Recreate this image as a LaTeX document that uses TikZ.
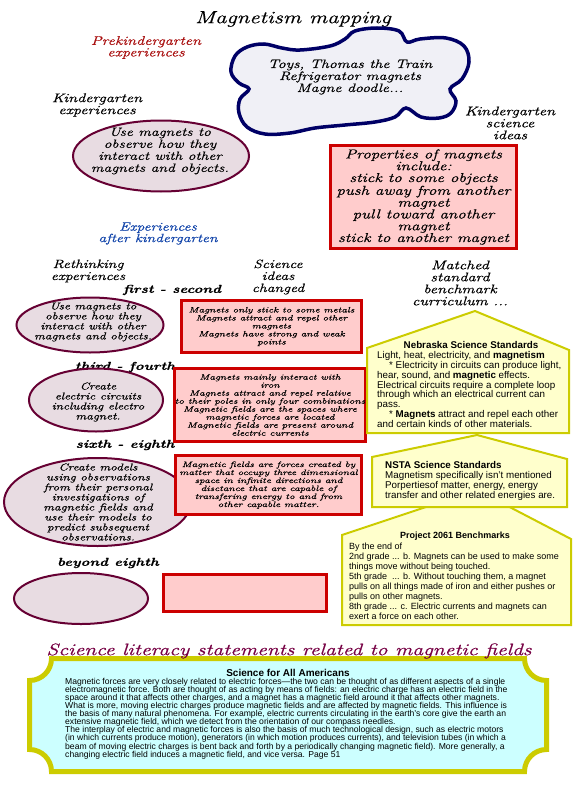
\documentclass[tikz,border=0pt]{standalone}
\usepackage{fontspec}
\setmainfont{Liberation Sans}
\newfontfamily\handfont{Latin Modern Roman}[FakeStretch=1.3,FakeBold=0.6]
\usetikzlibrary{shapes.geometric}
\newcommand\hwf[2]{\handfont\itshape\fontsize{#1}{#2}\selectfont}
\newcommand\sansf[2]{\rmfamily\fontsize{#1}{#2}\selectfont}
\definecolor{boxred}{HTML}{CC0000}
\definecolor{boxfill}{HTML}{FFCCCC}
\definecolor{ellline}{HTML}{660033}
\definecolor{ellfill}{HTML}{E8DCE2}
\definecolor{cloudline}{HTML}{000066}
\definecolor{cloudfill}{HTML}{F0F0F6}
\definecolor{pentline}{HTML}{CCCC00}
\definecolor{pentfill}{HTML}{FFFFCC}
\definecolor{bannerfill}{HTML}{CCFFFF}
\definecolor{prered}{HTML}{AA1111}
\definecolor{afterblue}{HTML}{1144AA}
\definecolor{littitle}{HTML}{770044}
\tikzset{
  hw/.style={align=center, inner sep=0pt},
  redbox/.style={draw=boxred, line width=3pt, fill=boxfill, rectangle, inner sep=0pt, align=center},
  ell/.style={ellipse, draw=ellline, line width=2pt, fill=ellfill, inner sep=0pt},
  pent/.style={draw=pentline, line width=2pt, fill=pentfill, line join=miter},
  sanstxt/.style={inner sep=0pt, font={\sansf{9.8}{9.9}}},
  grade/.style={inner sep=0pt, font={\hwf{11.5}{12}\bfseries}}
}
\begin{document}
\begin{tikzpicture}[x=1pt,y=-1pt]
\useasboundingbox (0,0) rectangle (576,792);
\fill[white] (0,0) rectangle (576,792);

% title
\node[hw, font={\hwf{17.5}{20}}] (title) at (293,19) {Magnetism mapping};

% prekindergarten
\node[hw, text=prered, font={\hwf{12.5}{11.5}}] (prek) at (146,47.5) {Prekindergarten\\experiences};

% cloud
\draw[draw=cloudline, fill=cloudfill, line width=3.5pt]
  plot[smooth cycle, tension=0.6] coordinates {
  (231,72) (235,56) (247,47) (264,44) (282,48) (300,50) (330,46) (345,39)
  (355,31) (377,28) (399,31) (407,42) (420,39) (446,38) (464,46) (469,62)
  (462,79) (450,89) (456,101) (451,113) (439,118) (421,117) (406,108)
  (395,117) (375,122) (345,125) (315,128) (290,133) (265,134) (247,127)
  (239,113) (240,99) (249,89) (239,83)};
\node[hw, font={\hwf{12.2}{12}}] (cloudtxt) at (350,77) {Toys, Thomas the Train\\Refrigerator magnets\\Magne doodle...};

% kindergarten
\node[hw, font={\hwf{12.5}{12}}] (kexp) at (97,105) {Kindergarten\\experiences};
\node[ell, minimum width=176pt, minimum height=71pt] (kell) at (161,156) {};
\node[hw, font={\hwf{12}{12}}] (kelltxt) at (160,151) {Use magnets to\\observe how they\\interact with other\\magnets and objects.};

\node[hw, font={\hwf{12.5}{12}}] (ksci) at (510,123) {Kindergarten\\science\\ideas};
\node[redbox, minimum width=186pt, minimum height=103pt, font={\hwf{13}{11.8}}] (kbox) at (423.5,197)
  {Properties of magnets\\include:\\stick to some objects\\push away from another\\magnet\\pull toward another\\magnet\\stick to another magnet};

% after kindergarten
\node[hw, text=afterblue, font={\hwf{12}{11.5}}] (after) at (158,233.5) {Experiences\\after kindergarten};
\node[hw, font={\hwf{12}{12}}] (rethink) at (88,271) {Rethinking\\experiences};
\node[hw, font={\hwf{12}{12}}] (changed) at (278,277) {Science\\ideas\\changed};
\node[hw, font={\hwf{12.5}{12}}] (matched) at (460,283) {Matched\\standard\\benchmark\\curriculum ...};

% first - second
\node[grade] (g12) at (172,290) {first - second};
\node[ell, minimum width=147pt, minimum height=55pt] (ell2) at (90,325) {};
\node[hw, font={\hwf{10}{10}}] (ell2txt) at (93,322) {Use magnets to\\observe how they\\interact with other\\magnets and objects.};
\node[redbox, minimum width=180pt, minimum height=52pt, font={\hwf{7.9}{8}}] (box1) at (271.5,326.5)
  {Magnets only stick to some metals\\Magnets attract and repel other\\magnets\\Magnets have strong and weak\\points};

% third - fourth
\node[grade] (g34) at (125,367) {third - fourth};
\node[ell, minimum width=134pt, minimum height=63pt] (ell3) at (96,400) {};
\node[hw, font={\hwf{10}{10}}] (ell3txt) at (98,402) {Create\\electric circuits\\including electro\\magnet.};
\node[redbox, minimum width=183pt, minimum height=73pt, font={\hwf{7.9}{8}}] (box2) at (270,405)
  {Magnets mainly interact with\\iron\\Magnets attract and repel relative\\to their poles in only four combinations\\Magnetic fields are the spaces where\\magnetic forces are located\\Magnetic fields are present around\\electric currents};

% sixth - eighth
\node[grade] (g68) at (125,445) {sixth - eighth};
\node[ell, minimum width=187pt, minimum height=88pt] (ell4) at (97.5,502) {};
\node[hw, font={\hwf{10}{10}}] (ell4txt) at (98,502) {Create models\\using observations\\from their personal\\investigations of\\magnetic fields and\\use their models to\\predict subsequent\\observations.};
\node[redbox, minimum width=186pt, minimum height=59pt, font={\hwf{7.9}{8}}] (box3) at (268.5,485)
  {Magnetic fields are forces created by\\matter that occupy three dimensional\\space in infinite directions and\\disctance that are capable of\\transfering energy to and from\\other capable matter.};

% beyond eighth
\node[grade] (g9) at (108,563) {beyond eighth};
\node[ell, minimum width=134pt, minimum height=51pt] (ell5) at (81,598.5) {};
\node[redbox, minimum width=163pt, minimum height=37pt] (box4) at (245,593) {};

% standards pentagons
\draw[pent] (342,535) -- (477,490) -- (571,539) -- (571,625) -- (342,625) -- cycle;
\draw[pent] (372,457) -- (477,435) -- (567,459) -- (567,507) -- (372,507) -- cycle;
\draw[pent] (367,348) -- (475,311) -- (569,350) -- (569,433) -- (367,433) -- cycle;

\node[sanstxt, font={\sansf{9.8}{9.9}\bfseries}] (nebt) at (471,345) {Nebraska Science Standards};
\node[sanstxt, anchor=west, align=left] (nebb) at (377,389.5)
  {Light, heat, electricity, and \textbf{magnetism}\\
   \hspace*{12pt}* Electricity in circuits can produce light,\\
   hear, sound, and \textbf{magnetic} effects.\\
   Electrical circuits require a complete loop\\
   through which an electrical current can\\
   pass.\\
   \hspace*{12pt}* \textbf{Magnets} attract and repel each other\\
   and certain kinds of other materials.};

\node[sanstxt, font={\sansf{9.8}{10}}, anchor=west, align=left] (nsta) at (385,481)
  {\textbf{NSTA Science Standards}\\
   Magnetism specifically isn't mentioned\\
   Porpertiesof matter, energy, energy\\
   transfer and other related energies are.};

\node[sanstxt, font={\sansf{9}{10}\bfseries}] (p2061t) at (455,536) {Project 2061 Benchmarks};
\node[sanstxt, font={\sansf{9}{10}}, anchor=west, align=left] (p2061b) at (349,581)
  {By the end of\\
   2nd grade ... b. Magnets can be used to make some\\
   things move without being touched.\\
   5th grade \ ... b. Without touching them, a magnet\\
   pulls on all things made of iron and either pushes or\\
   pulls on other magnets.\\
   8th grade ... c. Electric currents and magnets can\\
   exert a force on each other.};

% banner
\draw[draw=pentline, fill=bannerfill, line width=5pt]
  (51.5,658.5) -- (524.5,658.5) arc[start angle=180, end angle=90, radius=22]
  -- (546.5,749.5) arc[start angle=270, end angle=180, radius=22]
  -- (51.5,771.5) arc[start angle=0, end angle=-90, radius=22]
  -- (29.5,680.5) arc[start angle=90, end angle=0, radius=22] -- cycle;
\node[hw, text=littitle, font={\hwf{16.6}{18}}] (littit) at (289,651) {Science literacy statements related to magnetic fields};
\node[inner sep=0pt, font={\sansf{10}{10}\bfseries}] (sfaa) at (288,673) {Science for All Americans};
\node[inner sep=0pt, anchor=west, align=left, font={\sansf{8.6}{8.1}}] (sfaab) at (65,718.5)
  {Magnetic forces are very closely related to electric forces---the two can be thought of as different aspects of a single\\
   electromagnetic force. Both are thought of as acting by means of fields: an electric charge has an electric field in the\\
   space around it that affects other charges, and a magnet has a magnetic field around it that affects other magnets.\\
   What is more, moving electric charges produce magnetic fields and are affected by magnetic fields. This influence is\\
   the basis of many natural phenomena. For example, electric currents circulating in the earth's core give the earth an\\
   extensive magnetic field, which we detect from the orientation of our compass needles.\\
   The interplay of electric and magnetic forces is also the basis of much technological design, such as electric motors\\
   (in which currents produce motion), generators (in which motion produces currents), and television tubes (in which a\\
   beam of moving electric charges is bent back and forth by a periodically changing magnetic field). More generally, a\\
   changing electric field induces a magnetic field, and vice versa. Page 51};
\end{tikzpicture}
\end{document}
